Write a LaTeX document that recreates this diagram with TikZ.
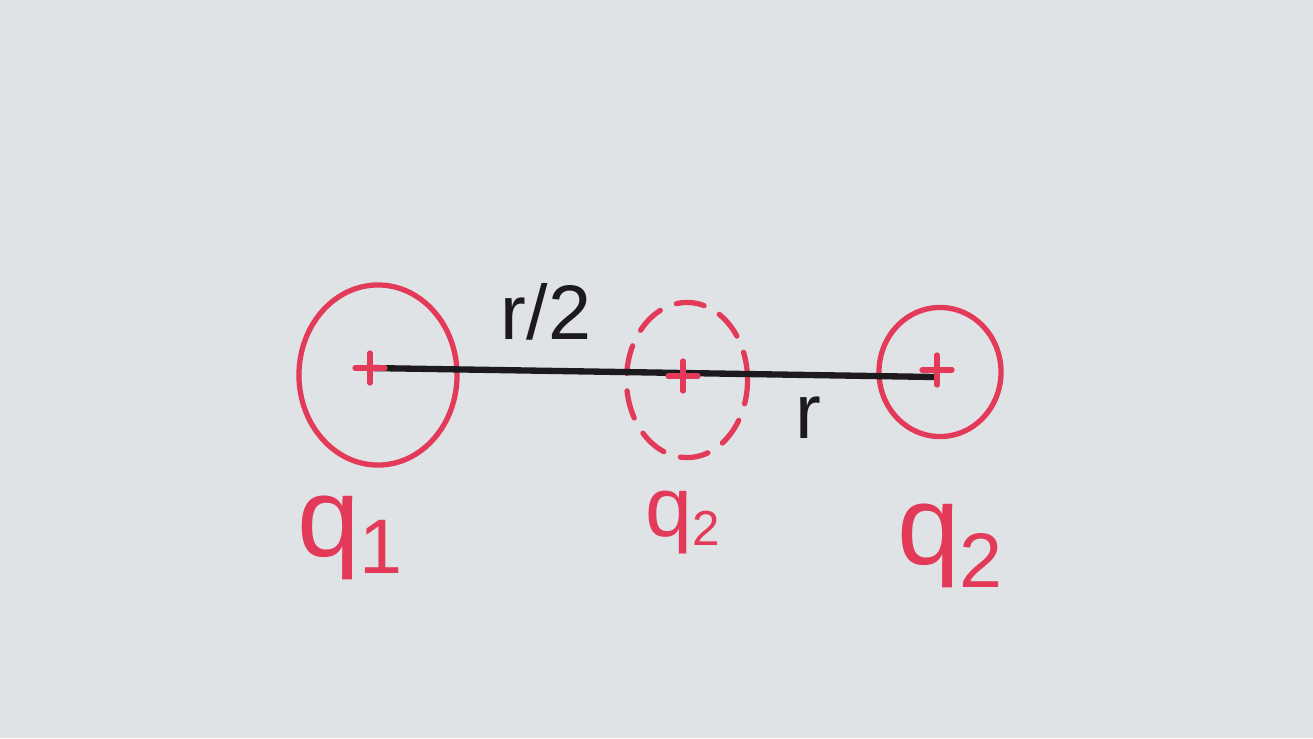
\documentclass[tikz,border=0pt]{standalone}
\usepackage{fontspec}
\setmainfont{Liberation Sans}
\usetikzlibrary{shapes.geometric, positioning, calc}
\definecolor{boardgray}{RGB}{223,227,229}
\definecolor{markerred}{RGB}{226,58,88}
\definecolor{markerblack}{RGB}{28,26,28}
\tikzset{
    charge/.style={ellipse, draw=markerred, line width=1.5pt, inner sep=0pt},
    ghost/.style={charge, dash pattern=on 8pt off 5pt, line cap=round},
    plus/.style={draw=markerred, line width=1.5pt, line cap=round},
    rod/.style={draw=markerblack, line width=1.8pt, line cap=round},
    qlabel/.style={text=markerred, inner sep=0pt},
    rlabel/.style={text=markerblack, inner sep=0pt, font=\fontsize{22}{24}\selectfont}
}
\newcommand{\crossmark}[1]{%
    \draw[plus] ($(#1)+(-15,0)$) -- ($(#1)+(15,0)$);
    \draw[plus] ($(#1)+(0,-15)$) -- ($(#1)+(0,15)$);}
\begin{document}
\begin{tikzpicture}[x=0.01cm, y=0.01cm]
    \fill[boardgray] (0,0) rectangle (1313,738);
    \useasboundingbox (0,0) rectangle (1313,738);

    \node[charge, minimum width=1.58cm, minimum height=1.80cm] (qa) at (378,363) {};
    \node[ghost, minimum width=1.21cm, minimum height=1.55cm] (qm) at (687,358) {};
    \node[charge, minimum width=1.22cm, minimum height=1.29cm] (qb) at (940,366) {};

    % charge centres and the rod between them
    \coordinate (ca) at (370,370);
    \coordinate (cm) at (683,362);
    \coordinate (cb) at (935,361);
    \draw[rod] (ca) -- (cb);
    \crossmark{ca}
    \crossmark{cm}
    \crossmark{$(cb)+(2,7)$}

    \node[rlabel] (half) at (546,426) {r/2};
    \node[rlabel] (full) at (808,320) {r};

    \node[qlabel, font=\fontsize{32}{34}\selectfont] (la) at (350,200) {q\raisebox{-0.15em}{\fontsize{22}{24}\selectfont 1}};
    \node[qlabel, font=\fontsize{24}{26}\selectfont] (lm) at (683,215) {q\raisebox{-0.1em}{\fontsize{14}{16}\selectfont 2}};
    \node[qlabel, font=\fontsize{32}{34}\selectfont] (lb) at (950,192) {q\raisebox{-0.2em}{\fontsize{22}{24}\selectfont 2}};
\end{tikzpicture}
\end{document}
